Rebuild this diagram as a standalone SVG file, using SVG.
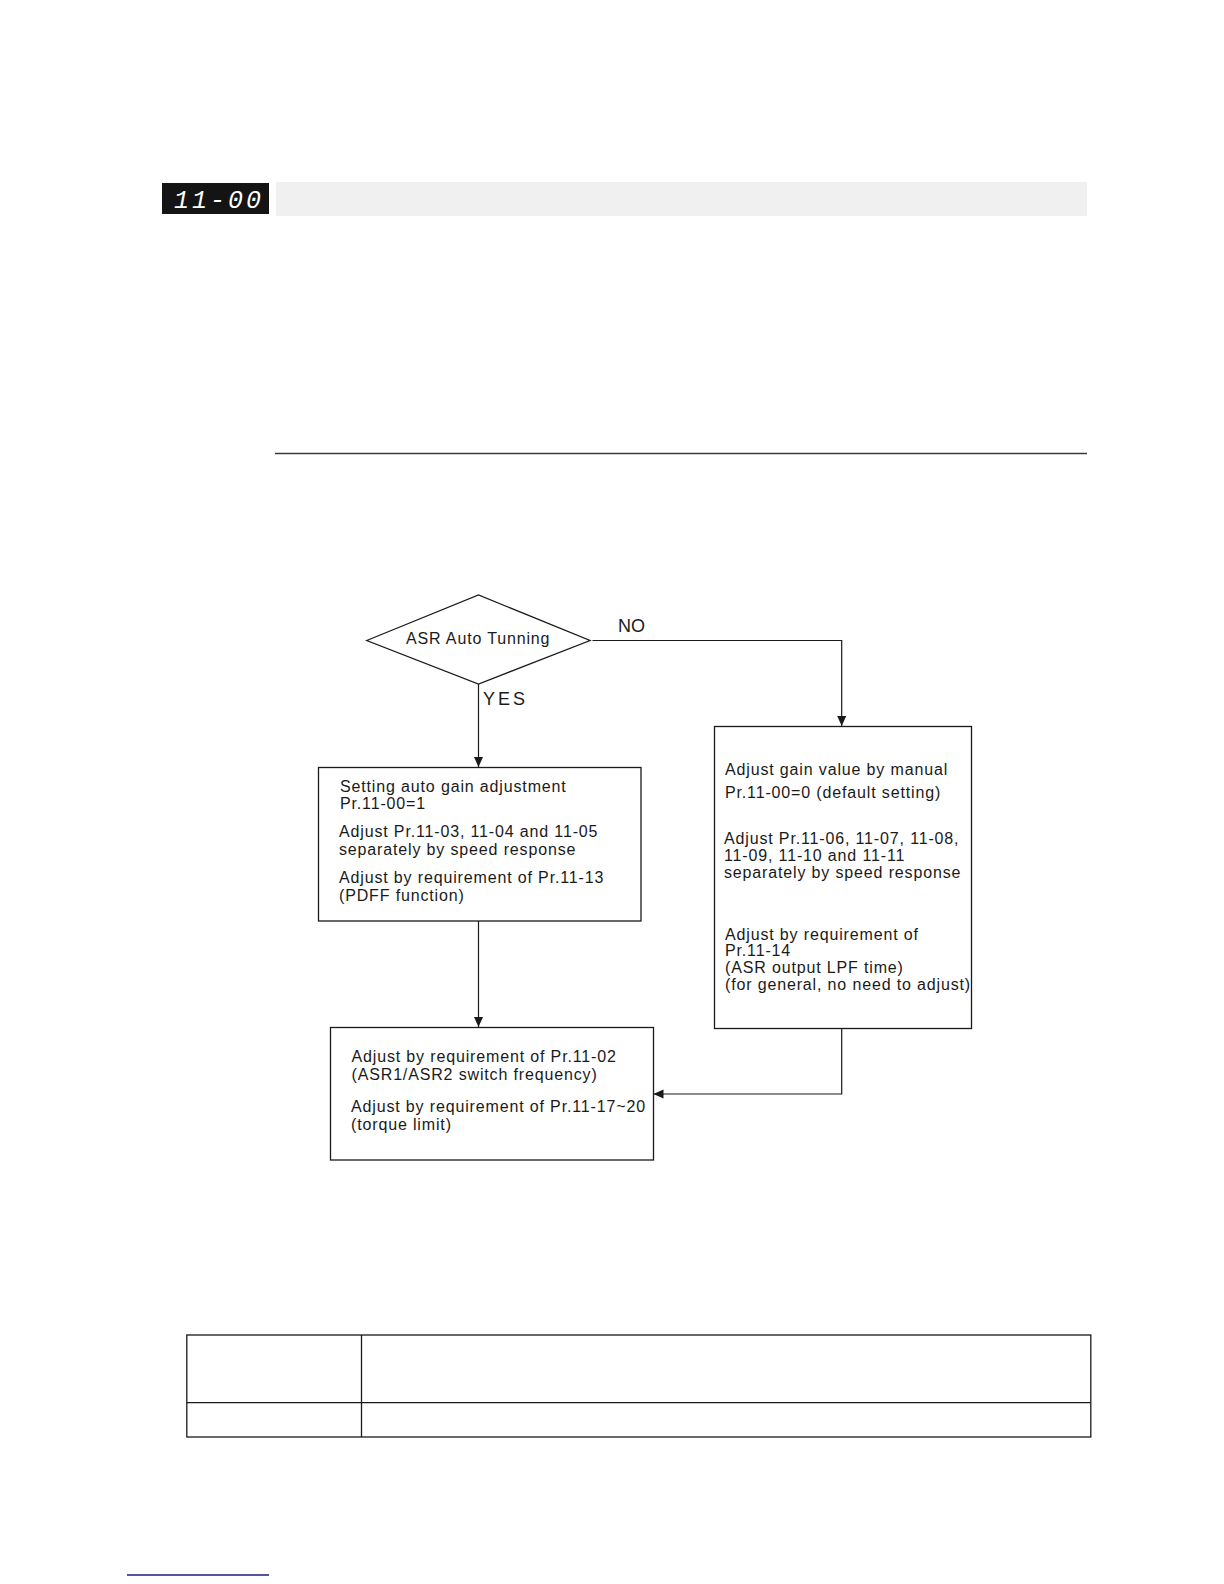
<svg xmlns="http://www.w3.org/2000/svg" width="1224" height="1584" viewBox="0 0 1224 1584">
<style>
.t{font-family:"Liberation Sans",Arial,sans-serif;font-size:16px;letter-spacing:0.85px;fill:#1a1a1a}
.box{fill:#fff;stroke:#1a1a1a;stroke-width:1.3}
.ln{fill:none;stroke:#1a1a1a;stroke-width:1.2}
.lbl{font-family:"Liberation Sans",Arial,sans-serif;font-size:18px;fill:#1a1a1a}
</style>
<defs>
<marker id="ah" markerUnits="userSpaceOnUse" markerWidth="10" markerHeight="11" refX="10" refY="4.5" orient="auto">
<path d="M0,0 L10,4.5 L0,9 Z" fill="#1a1a1a"/>
</marker>
</defs>
<rect width="1224" height="1584" fill="#fff"/>
<g id="header">
<rect x="276" y="182" width="811" height="34" fill="#f0f0f0"/>
<rect x="162" y="183" width="107" height="31" fill="#141414"/>
<text x="174" y="208" font-family="Liberation Mono,monospace" font-size="25" font-style="italic" fill="#fff" letter-spacing="3">11-00</text>
</g>
<line x1="275" y1="453.5" x2="1087" y2="453.5" stroke="#3a3a3a" stroke-width="1.5"/>
<g id="connectors">
<path class="ln" d="M592.5,640.5 H841.7 V726" marker-end="url(#ah)"/>
<path class="ln" d="M478.5,684 V767" marker-end="url(#ah)"/>
<path class="ln" d="M478.5,921 V1027" marker-end="url(#ah)"/>
<path class="ln" d="M841.7,1028.5 V1094 H653.5" marker-end="url(#ah)"/>
<text class="lbl" x="618" y="632">NO</text>
<text class="lbl" x="483" y="705" letter-spacing="3">YES</text>
</g>
<g id="decision">
<polygon class="box" points="366.7,640.5 478.5,595 590,640.5 478.5,684"/>
<text class="t" x="406" y="644" letter-spacing="0.8">ASR Auto Tunning</text>
</g>
<g id="auto-gain">
<rect class="box" x="318.5" y="767.5" width="322.5" height="153.5"/>
<text class="t" x="340" y="791.5">Setting auto gain adjustment</text>
<text class="t" x="340" y="809">Pr.11-00=1</text>
<text class="t" x="339" y="837">Adjust Pr.11-03, 11-04 and 11-05</text>
<text class="t" x="339" y="855">separately by speed response</text>
<text class="t" x="339" y="883">Adjust by requirement of Pr.11-13</text>
<text class="t" x="339" y="901">(PDFF function)</text>
</g>
<g id="manual-gain">
<rect class="box" x="714.5" y="726.5" width="257" height="302"/>
<text class="t" x="725" y="775">Adjust gain value by manual</text>
<text class="t" x="725" y="798">Pr.11-00=0 (default setting)</text>
<text class="t" x="724" y="843.5">Adjust Pr.11-06, 11-07, 11-08,</text>
<text class="t" x="724" y="860.5">11-09, 11-10 and 11-11</text>
<text class="t" x="724" y="877.5">separately by speed response</text>
<text class="t" x="725" y="939.5">Adjust by requirement of</text>
<text class="t" x="725" y="956">Pr.11-14</text>
<text class="t" x="725" y="973">(ASR output LPF time)</text>
<text class="t" x="725" y="989.5">(for general, no need to adjust)</text>
</g>
<g id="asr-switch">
<rect class="box" x="330.5" y="1027.5" width="323" height="132.5"/>
<text class="t" x="351.5" y="1061.5">Adjust by requirement of Pr.11-02</text>
<text class="t" x="351.5" y="1080">(ASR1/ASR2 switch frequency)</text>
<text class="t" x="351" y="1111.5">Adjust by requirement of Pr.11-17~20</text>
<text class="t" x="351" y="1130">(torque limit)</text>
</g>
<g id="table" fill="none" stroke="#1a1a1a" stroke-width="1.3">
<rect x="186.8" y="1335" width="904" height="102"/>
<line x1="186.8" y1="1402.7" x2="1090.8" y2="1402.7"/>
<line x1="361.5" y1="1335" x2="361.5" y2="1437"/>
</g>
<line x1="127" y1="1575" x2="269" y2="1575" stroke="#1c1c8a" stroke-width="1.4"/>
</svg>
